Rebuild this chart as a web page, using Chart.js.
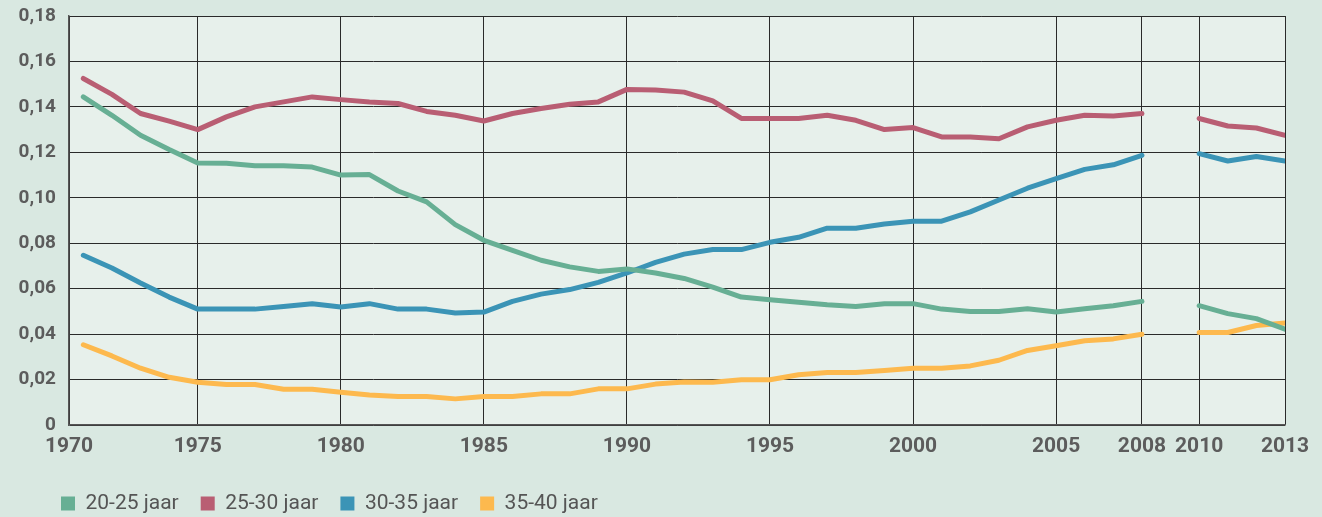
<!DOCTYPE html>
<html>
<head>
<meta charset="utf-8">
<script src="https://cdn.jsdelivr.net/npm/chart.js@4"></script>
<style>
  html, body { margin: 0; padding: 0; background: #d9e8e1; }
  #wrap { width: 1322px; height: 517px; }
</style>
</head>
<body>
<div id="wrap"><canvas id="c" width="1322" height="517"></canvas></div>
<script>
// years of the data points (2009 is missing in the source)
const years = [1971,1972,1973,1974,1975,1976,1977,1978,1979,1980,
  1981,1982,1983,1984,1985,1986,1987,1988,1989,1990,
  1991,1992,1993,1994,1995,1996,1997,1998,1999,2000,
  2001,2002,2003,2004,2005,2006,2007,2008,2009,2010,2011,2012,2013];

const seriesNames = ['20-25 jaar', '25-30 jaar', '30-35 jaar', '35-40 jaar'];

const age20_25 = [.1444,.1363,.1275,.1212,.1153,.1152,.1141,.1141,.1135,.1100,
  .1102,.1030,.0982,.0882,.0813,.0769,.0725,.0696,.0676,.0687,
  .0669,.0645,.0607,.0563,.0551,.0540,.0529,.0522,.0534,.0534,
  .0510,.0500,.0500,.0512,.0497,.0512,.0525,.0544,null,.0525,.0490,.0468,.0422];

const age25_30 = [.1525,.1455,.1371,.1337,.1300,.1356,.1400,.1422,.1444,.1432,
  .1422,.1415,.1380,.1363,.1338,.1371,.1393,.1412,.1422,.1477,
  .1474,.1465,.1426,.1349,.1349,.1349,.1363,.1341,.1300,.1309,
  .1268,.1268,.1260,.1312,.1341,.1363,.1360,.1371,null,.1349,.1316,.1307,.1275];

const age30_35 = [.0747,.0691,.0625,.0563,.0510,.0510,.0510,.0522,.0534,.0519,
  .0534,.0510,.0510,.0493,.0497,.0544,.0576,.0596,.0628,.0669,
  .0716,.0752,.0772,.0772,.0804,.0826,.0866,.0866,.0885,.0897,
  .0897,.0938,.0990,.1042,.1084,.1125,.1145,.1187,null,.1194,.1162,.1182,.1162];

const age35_40 = [.0353,.0304,.0250,.0210,.0188,.0178,.0178,.0157,.0157,.0144,
  .0132,.0125,.0125,.0115,.0125,.0125,.0137,.0137,.0159,.0159,
  .0180,.0189,.0188,.0199,.0199,.0221,.0231,.0231,.0240,.0250,
  .0250,.0260,.0285,.0328,.0349,.0371,.0379,.0399,null,.0407,.0407,.0438,.0449];

const xTickYears = [1970,1975,1980,1985,1990,1995,2000,2005,2008,2010,2013];
const xTickLabels = ['1970','1975','1980','1985','1990','1995','2000','2005','2008','2010','2013'];
const yTickValues = [0,0.02,0.04,0.06,0.08,0.10,0.12,0.14,0.16,0.18];

const colors = ['#67af94', '#b95e73', '#3b94b6', '#fdb94e'];
const allSeries = [age20_25, age25_30, age30_35, age35_40];

const datasets = allSeries.map((vals, k) => ({
  label: seriesNames[k],
  data: years.map((y, i) => ({x: y, y: vals[i]})),
  borderColor: colors[k],
  backgroundColor: colors[k],
  borderWidth: 5,
  pointRadius: 0,
  pointHoverRadius: 0,
  tension: 0,
  spanGaps: false,
  borderJoinStyle: 'round',
  borderCapStyle: 'round',
  fill: false
}));

const plotBg = {
  id: 'plotBg',
  beforeDraw(chart) {
    const {ctx, chartArea: a} = chart;
    ctx.save();
    ctx.fillStyle = '#e7f0eb';
    ctx.fillRect(a.left, a.top, a.right - a.left, a.bottom - a.top);
    ctx.restore();
    // shift the legend so its first box lines up under the plot
    if (chart.legend) chart.legend.left = 39;
  }
};

const tickColor = '#5c5c5c';

new Chart(document.getElementById('c'), {
  type: 'line',
  data: { datasets },
  plugins: [plotBg],
  options: {
    responsive: false,
    animation: false,
    events: [],
    layout: { padding: { left: 0, right: 37, top: 16, bottom: -7 } },
    plugins: {
      tooltip: { enabled: false },
      legend: {
        position: 'bottom',
        align: 'start',
        labels: {
          boxWidth: 14,
          boxHeight: 14,
          padding: 22,
          color: '#555555',
          font: { family: 'Roboto', size: 21, weight: 'normal' },
          generateLabels(chart) {
            return chart.data.datasets.map((ds, i) => ({
              text: ds.label,
              fillStyle: ds.borderColor,
              strokeStyle: ds.borderColor,
              lineWidth: 0,
              fontColor: '#555555',
              hidden: false,
              datasetIndex: i
            }));
          }
        }
      }
    },
    scales: {
      x: {
        type: 'linear',
        min: 1970.5,
        max: 2013,
        afterBuildTicks(axis) {
          axis.ticks = xTickYears.map(v => ({ value: Math.max(v, axis.min) }));
        },
        afterFit(axis) {
          axis.height = 46;
          axis.paddingLeft = 0; axis.paddingRight = 0;
        },
        ticks: {
          autoSkip: false,
          maxRotation: 0,
          padding: 9,
          color: tickColor,
          font: { family: 'Roboto', size: 21, weight: 'bold' },
          callback(value, index) { return xTickLabels[index]; }
        },
        grid: { color: '#2a2a2a', lineWidth: 1, drawTicks: false },
        border: { color: '#555555', width: 1.5 }
      },
      y: {
        min: 0,
        max: 0.18,
        afterBuildTicks(axis) {
          axis.ticks = yTickValues.map(v => ({ value: v }));
        },
        afterFit(axis) {
          axis.width = 69;
          axis.paddingTop = 0; axis.paddingBottom = 0;
        },
        ticks: {
          padding: 13,
          color: tickColor,
          font: { family: 'Roboto', size: 19, weight: 'bold' },
          callback(value) {
            if (value === 0) return '0';
            return (Math.round(value * 100) / 100).toFixed(2).replace('.', ',');
          }
        },
        grid: { color: '#2a2a2a', lineWidth: 1, drawTicks: false },
        border: { color: '#555555', width: 1.5 }
      }
    }
  }
});
</script>
</body>
</html>
